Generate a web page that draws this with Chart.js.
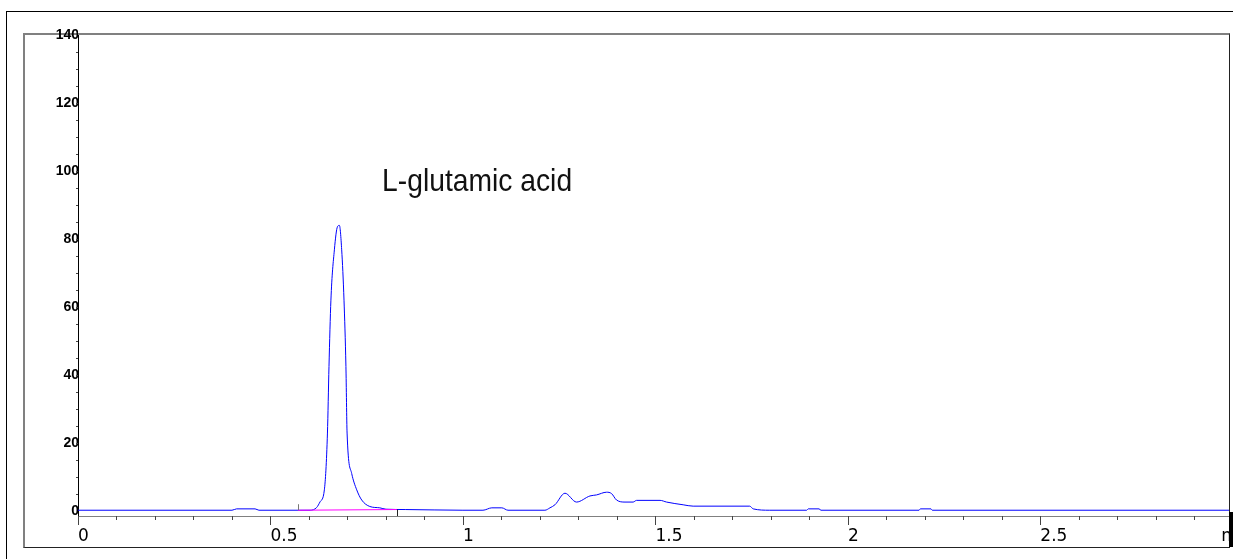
<!DOCTYPE html>
<html>
<head>
<meta charset="utf-8">
<script src="https://cdn.jsdelivr.net/npm/chart.js@4.4.0/dist/chart.umd.min.js"></script>
<style>
html, body { margin: 0; padding: 0; background: #fff; }
#wrap { position: relative; width: 1233px; height: 559px; overflow: hidden; }
.frame { position: absolute; }
#outer { left: 6px; top: 11px; width: 1240px; height: 560px; border-top: 1px solid #000; border-left: 1px solid #000; }
#inner { left: 23px; top: 33px; width: 1204px; height: 512px; border-top: 2px solid #808080; border-left: 2px solid #808080; border-right: 1px solid #222; border-bottom: 1px solid #222; }
#cap { left: 1229px; top: 512px; width: 4px; height: 35px; background: #000; z-index: 3; }
canvas { position: absolute; left: 0; top: 0; z-index: 2; }
</style>
</head>
<body>
<div id="wrap">
  <div class="frame" id="outer"></div>
  <div class="frame" id="inner"></div>
  <canvas id="chromChart" width="1233" height="559"></canvas>
  <div class="frame" id="cap"></div>
</div>
<script>
// retention time (min) and detector signal
const timeValues = [
  0.000, 0.400, 0.412, 0.460, 0.470, 0.603, 0.620, 0.629, 0.640, 0.648,
  0.652, 0.657, 0.666, 0.674, 0.679, 0.685, 0.691, 0.696, 0.699, 0.711,
  0.724, 0.737, 0.758, 0.784, 0.800, 0.850, 1.000, 1.052, 1.075, 1.101,
  1.117, 1.213, 1.226, 1.239, 1.265, 1.295, 1.330, 1.347, 1.373, 1.386,
  1.399, 1.421, 1.442, 1.451, 1.512, 1.529, 1.572, 1.598, 1.745, 1.754,
  1.797, 1.893, 1.897, 1.925, 1.930, 2.185, 2.188, 2.216, 2.219, 2.990
];
const signalValues = [
  0.2, 0.2, 0.6, 0.6, 0.2, 0.2, 1.0, 2.7, 6.2, 22.9,
  42.5, 62.0, 76.8, 83.6, 84.0, 76.8, 62.0, 42.5, 22.9, 11.0,
  6.2, 3.2, 1.3, 0.9, 0.5, 0.4, 0.2, 0.2, 0.9, 0.9,
  0.2, 0.2, 0.9, 1.8, 5.2, 2.6, 4.4, 4.7, 5.5, 5.1,
  3.2, 2.6, 2.6, 3.1, 3.1, 2.6, 1.8, 1.4, 1.4, 0.6,
  0.2, 0.2, 0.6, 0.6, 0.2, 0.2, 0.6, 0.6, 0.2, 0.2
];

// integration baseline of the glutamic acid peak
const baselineTimes = [0.571, 0.828];
const baselineValues = [0.2, 0.4];

const xTickValues = [0, 0.5, 1, 1.5, 2, 2.5, 2.97];
const xTickLabels = ['0', '0.5', '1', '1.5', '2', '2.5', 'min'];
const yTickValues = [0, 20, 40, 60, 80, 100, 120, 140];
const yTickLabels = ['0', '20', '40', '60', '80', '100', '120', '140'];

const peakName = 'L-glutamic acid';
const peakLabelAt = { x: 0.79, y: 94 };

const ctx = document.getElementById('chromChart').getContext('2d');

const tickMarks = {
  id: 'tickMarks',
  afterDraw(chart) {
    const { ctx, chartArea } = chart;
    const x = chart.scales.x;
    const y = chart.scales.y;
    ctx.save();
    ctx.lineWidth = 1;
    ctx.strokeStyle = '#444';
    ctx.beginPath();
    for (let i = 0; i <= 29; i++) {
      const px = Math.round(x.getPixelForValue(i / 10)) + 0.5;
      const len = i % 5 === 0 ? 9 : 4;
      ctx.moveTo(px, chartArea.bottom);
      ctx.lineTo(px, chartArea.bottom + len);
    }
    for (let v = 5; v <= 135; v += 5) {
      const py = Math.round(y.getPixelForValue(v)) + 0.5;
      ctx.moveTo(chartArea.left - 2, py);
      ctx.lineTo(chartArea.left, py);
    }
    ctx.stroke();

    // integration event marks
    ctx.strokeStyle = '#777';
    ctx.beginPath();
    let px = Math.round(x.getPixelForValue(baselineTimes[0])) + 0.5;
    ctx.moveTo(px, y.getPixelForValue(baselineValues[0]));
    ctx.lineTo(px, y.getPixelForValue(baselineValues[0]) - 6);
    ctx.stroke();
    ctx.strokeStyle = '#222';
    ctx.beginPath();
    px = Math.round(x.getPixelForValue(baselineTimes[1])) + 0.5;
    ctx.moveTo(px, y.getPixelForValue(baselineValues[1]));
    ctx.lineTo(px, chartArea.bottom);
    ctx.stroke();

    // peak name, condensed like the original
    ctx.fillStyle = '#111';
    ctx.font = '32px "Liberation Sans", Arial, sans-serif';
    ctx.textBaseline = 'alphabetic';
    ctx.textAlign = 'left';
    ctx.fillText(peakName, x.getPixelForValue(peakLabelAt.x), y.getPixelForValue(peakLabelAt.y), 190);
    ctx.restore();
  }
};

new Chart(ctx, {
  type: 'line',
  data: {
    datasets: [{
      data: baselineTimes.map((t, i) => ({ x: t, y: baselineValues[i] })),
      borderColor: '#ff00ff',
      borderWidth: 1,
      pointRadius: 0,
      order: 0
    }, {
      data: timeValues.map((t, i) => ({ x: t, y: signalValues[i] })),
      borderColor: '#0000ff',
      borderWidth: 1,
      pointRadius: 0,
      cubicInterpolationMode: 'monotone',
      order: 1
    }]
  },
  options: {
    responsive: false,
    animation: false,
    devicePixelRatio: 1,
    layout: { padding: { top: 35, right: 4, left: 0, bottom: 0 } },
    plugins: {
      legend: { display: false },
      tooltip: { enabled: false }
    },
    scales: {
      x: {
        type: 'linear',
        min: 0,
        max: 2.99,
        grid: { display: false, drawTicks: false },
        border: { display: true, color: '#808080', width: 1 },
        afterBuildTicks: axis => { axis.ticks = xTickValues.map(v => ({ value: v })); },
        afterFit: axis => { axis.height = 43; axis.paddingLeft = 0; axis.paddingRight = 0; },
        ticks: {
          autoSkip: false,
          maxRotation: 0,
          align: 'start',
          padding: 10,
          color: '#000',
          font: { family: '"DejaVu Sans", sans-serif', size: 17 },
          callback: (value, index) => xTickLabels[index]
        }
      },
      y: {
        type: 'linear',
        min: -1.5,
        max: 140,
        grid: { display: false, drawTicks: false },
        border: { display: true, color: '#000', width: 1 },
        afterBuildTicks: axis => { axis.ticks = yTickValues.map(v => ({ value: v })); },
        afterFit: axis => { axis.width = 78; axis.paddingTop = 0; axis.paddingBottom = 0; },
        ticks: {
          autoSkip: false,
          padding: -1,
          color: '#000',
          font: { family: '"Liberation Sans", Arial, sans-serif', size: 14, weight: 'bold' },
          callback: (value, index) => yTickLabels[index]
        }
      }
    }
  },
  plugins: [tickMarks]
});
</script>
</body>
</html>
